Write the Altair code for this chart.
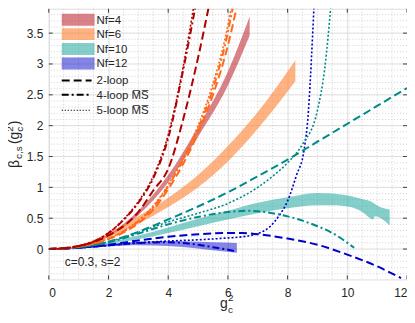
import altair as alt
import pandas as pd

# ---------------- data ----------------
# bands (lower / upper edges)
band4_x = [0, 1, 2, 3, 4, 5, 6, 6.73]
band4_lo = [0, 0.03, 0.2, 0.55, 1.08, 1.82, 2.65, 3.46]
band4_hi = [0, 0.04, 0.24, 0.62, 1.2, 1.98, 2.88, 3.77]

band6_x = [0, 1, 2, 3, 4, 5, 6, 7, 8.26]
band6_lo = [0, 0.04, 0.19, 0.41, 0.68, 1.0, 1.42, 1.95, 2.72]
band6_hi = [0, 0.06, 0.26, 0.53, 0.83, 1.2, 1.67, 2.22, 3.06]

band10_x = [0, 1, 2, 3, 4, 5, 6, 7, 8, 9, 9.5, 10.1, 10.5, 10.87, 10.92, 11.42]
band10_lo = [0, 0.02, 0.08, 0.16, 0.26, 0.37, 0.48, 0.58, 0.66, 0.71, 0.71, 0.68, 0.6, 0.48, 0.53, 0.38]
band10_hi = [0, 0.03, 0.11, 0.22, 0.35, 0.49, 0.62, 0.75, 0.84, 0.91, 0.9, 0.86, 0.81, 0.75, 0.73, 0.64]

band12_x = [0, 1, 2, 3, 4, 5, 5.5, 6.3]
band12_lo = [0, 0.01, 0.04, 0.06, 0.05, 0.01, -0.02, -0.06]
band12_hi = [0, 0.03, 0.08, 0.12, 0.13, 0.12, 0.11, 0.1]

# Nf=4 curves
nf4_2loop_x = [0, 1, 2, 3, 3.5, 4, 4.5, 5, 5.39]
nf4_2loop_y = [0, 0.05, 0.22, 0.6, 0.95, 1.3, 2.1, 3.1, 4.0]
nf4_4loop_x = [0, 0.5, 1, 1.5, 2, 2.5, 3, 3.5, 4, 4.5, 4.94]
nf4_4loop_y = [0, 0.01, 0.05, 0.12, 0.26, 0.47, 0.75, 1.15, 1.8, 2.9, 4.0]
nf4_5loop_x = [0, 0.5, 1, 1.5, 2, 2.5, 3, 3.5, 4, 4.5, 4.88]
nf4_5loop_y = [0, 0.01, 0.05, 0.12, 0.26, 0.48, 0.77, 1.18, 1.85, 2.95, 4.0]

# Nf=6 curves
nf6_2loop_x = [0, 1, 2, 3, 3.5, 4, 4.5, 5, 5.5, 6, 6.33]
nf6_2loop_y = [0, 0.04, 0.16, 0.42, 0.64, 0.97, 1.38, 1.88, 2.5, 3.3, 4.0]
nf6_4loop_x = [0, 1, 2, 3, 3.5, 4, 4.5, 5, 5.5, 5.9, 6.2]
nf6_4loop_y = [0, 0.04, 0.17, 0.45, 0.68, 1.02, 1.45, 1.95, 2.6, 3.3, 4.0]
nf6_5loop_x = [0, 1, 2, 3, 3.5, 4, 4.5, 5, 5.5, 5.9, 6.15]
nf6_5loop_y = [0, 0.04, 0.17, 0.46, 0.7, 1.04, 1.48, 2.0, 2.68, 3.4, 4.0]

# Nf=10 curves
nf10_2loop_x = [0, 1, 2, 3, 4, 5, 6, 7, 8, 9, 10, 11, 12]
nf10_2loop_y = [0, 0.03, 0.12, 0.28, 0.48, 0.69, 0.92, 1.18, 1.45, 1.74, 2.03, 2.32, 2.61]
nf10_4loop_x = [0, 1, 2, 3, 4, 5, 6, 6.7, 7.5, 8, 8.5, 9, 9.5, 10.23]
nf10_4loop_y = [0, 0.03, 0.11, 0.25, 0.4, 0.52, 0.6, 0.62, 0.58, 0.53, 0.46, 0.37, 0.26, 0.02]
nf10_5loop_x = [0, 1, 2, 3, 4, 5, 6, 7, 7.5, 8, 8.5, 9, 9.25, 9.46]
nf10_5loop_y = [0, 0.03, 0.12, 0.27, 0.44, 0.58, 0.74, 1.0, 1.18, 1.4, 1.7, 2.25, 2.95, 4.0]

# Nf=12 curves
nf12_2loop_x = [0, 1, 2, 3, 4, 5, 6, 6.5, 7, 8, 9, 10, 11, 11.8]
nf12_2loop_y = [0, 0.02, 0.07, 0.14, 0.2, 0.24, 0.26, 0.26, 0.24, 0.17, 0.07, -0.09, -0.28, -0.47]
nf12_4loop_x = [0, 1, 2, 3, 4, 5, 5.5, 6, 6.3]
nf12_4loop_y = [0, 0.02, 0.06, 0.1, 0.11, 0.07, 0.03, -0.01, -0.04]
nf12_5loop_x = [0, 1, 2, 3, 4, 5, 6, 6.5, 7, 7.4, 7.7, 8, 8.3, 8.55, 8.7, 8.8, 8.89]
nf12_5loop_y = [0, 0.02, 0.06, 0.1, 0.13, 0.15, 0.18, 0.2, 0.25, 0.36, 0.53, 0.78, 1.2, 1.6, 2.25, 3.1, 4.0]

x_ticks = [0, 2, 4, 6, 8, 10, 12]
y_ticks = [0, 0.5, 1, 1.5, 2, 2.5, 3, 3.5]
x_minor = [v / 2 for v in range(1, 24) if v % 4 != 0]
y_minor = [round(v / 10, 2) for v in range(-4, 39) if v % 5 != 0]

band_labels = ["Nf=4", "Nf=6", "Nf=10", "Nf=12"]
loop_labels = ["2-loop", "4-loop M\u0305S\u0305", "5-loop M\u0305S\u0305"]
note_text = "c=0.3, s=2"

# ---------------- styling ----------------
W, H = 360, 272
FONT = "Liberation Sans"
TXT = "#262626"
FRAME = "#404040"

fill4, fill6, fill10, fill12 = "#c0303a", "#ff8030", "#20a8a0", "#2020d0"
col4, col6, col10, col12 = "#b00000", "#ff6a1a", "#008b8b", "#0000c8"
DASH = [8, 4]
DASHDOT = [7, 3, 2, 3]
DOT = [2, 2]

xscale = alt.Scale(domain=[0, 12], nice=False, zero=False)
yscale = alt.Scale(domain=[-0.492, 3.895], nice=False, zero=False)

X_AX = alt.Axis(values=x_ticks, format="~g", grid=True, gridColor="#dcdcdc", gridWidth=1,
                ticks=False, labelPadding=8, labelFontSize=12, labelFont=FONT,
                labelColor=TXT, domain=False, title=None)
Y_AX = alt.Axis(values=y_ticks, format="~g", grid=True, gridColor="#dcdcdc", gridWidth=1,
                ticks=False, labelPadding=6, labelFontSize=12, labelFont=FONT,
                labelColor=TXT, domain=False, title=None)

def X(f="x"):
    return alt.X(f"{f}:Q", scale=xscale, axis=X_AX)

def Y(f="y"):
    return alt.Y(f"{f}:Q", scale=yscale, axis=Y_AX)

one = pd.DataFrame({"a": [0]})

layers = []

# minor dotted grid
layers.append(alt.Chart(pd.DataFrame({"x": x_minor})).mark_rule(
    color="#c8c8c8", strokeDash=[1, 2], strokeWidth=0.8).encode(x=X()))
layers.append(alt.Chart(pd.DataFrame({"y": y_minor})).mark_rule(
    color="#c8c8c8", strokeDash=[1, 2], strokeWidth=0.8).encode(y=Y()))

# bands
def band(xv, lo, hi, color, op):
    df = pd.DataFrame({"x": xv, "lo": lo, "hi": hi})
    return alt.Chart(df).mark_area(color=color, opacity=op, clip=True, interpolate="monotone").encode(
        x=X(), y=Y("lo"), y2="hi:Q")

layers.append(band(band4_x, band4_lo, band4_hi, fill4, 0.6))
layers.append(band(band6_x, band6_lo, band6_hi, fill6, 0.6))
layers.append(band(band10_x, band10_lo, band10_hi, fill10, 0.55))
layers.append(band(band12_x, band12_lo, band12_hi, fill12, 0.55))

def line(xv, yv, color, dash, width=2.0):
    df = pd.DataFrame({"x": xv, "y": yv})
    return alt.Chart(df).mark_line(color=color, strokeDash=dash, strokeWidth=width, clip=True,
                                   interpolate="monotone").encode(x=X(), y=Y())

layers += [
    line(nf12_2loop_x, nf12_2loop_y, col12, DASH),
    line(nf12_4loop_x, nf12_4loop_y, col12, DASHDOT),
    line(nf12_5loop_x, nf12_5loop_y, col12, DOT, 1.6),
    line(nf10_2loop_x, nf10_2loop_y, col10, DASH),
    line(nf10_4loop_x, nf10_4loop_y, col10, DASHDOT),
    line(nf10_5loop_x, nf10_5loop_y, col10, DOT, 1.6),
    line(nf6_2loop_x, nf6_2loop_y, col6, DASH),
    line(nf6_4loop_x, nf6_4loop_y, col6, DASHDOT),
    line(nf6_5loop_x, nf6_5loop_y, col6, DOT, 1.6),
    line(nf4_2loop_x, nf4_2loop_y, col4, DASH),
    line(nf4_4loop_x, nf4_4loop_y, col4, DASHDOT),
    line(nf4_5loop_x, nf4_5loop_y, col4, DOT, 1.6),
]

# inward ticks on all four sides
xt = pd.DataFrame({"x": x_ticks})
yt = pd.DataFrame({"y": y_ticks})
layers.append(alt.Chart(xt).mark_rule(color=FRAME).encode(x=X(), y=alt.value(H), y2=alt.value(H - 4)))
layers.append(alt.Chart(xt).mark_rule(color=FRAME).encode(x=X(), y=alt.value(0), y2=alt.value(4)))
layers.append(alt.Chart(yt).mark_rule(color=FRAME).encode(y=Y(), x=alt.value(0), x2=alt.value(4)))
layers.append(alt.Chart(yt).mark_rule(color=FRAME).encode(y=Y(), x=alt.value(W), x2=alt.value(W - 4)))

# legend (manual)
patch_rows = [11, 25.5, 40.5, 55]
for lab, c, op, r in zip(band_labels, [fill4, fill6, fill10, fill12], [0.6, 0.6, 0.55, 0.55], patch_rows):
    layers.append(alt.Chart(one).mark_rect(color=c, opacity=op).encode(
        x=alt.value(13), x2=alt.value(46), y=alt.value(r - 6), y2=alt.value(r + 6)))
    layers.append(alt.Chart(one).mark_text(text=lab, align="left", baseline="middle", font=FONT,
                                           fontSize=11.5, color=TXT).encode(x=alt.value(48), y=alt.value(r + 1)))
line_rows = [72, 86.5, 102]
for lab, d, r in zip(loop_labels, [DASH, DASHDOT, [1.2, 1.8]], line_rows):
    layers.append(alt.Chart(one).mark_rule(color="black", strokeDash=d, strokeWidth=2 if d != [1.2, 1.8] else 1.2).encode(
        x=alt.value(13), x2=alt.value(43), y=alt.value(r)))
    layers.append(alt.Chart(one).mark_text(text=lab, align="left", baseline="middle", font=FONT,
                                           fontSize=11.5, color=TXT).encode(x=alt.value(48), y=alt.value(r + 1)))

# annotation
layers.append(alt.Chart(one).mark_text(text=note_text, align="left", baseline="alphabetic", font=FONT,
                                       fontSize=12, color=TXT).encode(x=alt.value(16), y=alt.value(259)))

# y-axis title: beta_{c,s}(g_c^2), rotated
def rtxt(t, px, py, size):
    return alt.Chart(one).mark_text(text=t, angle=270, align="left", baseline="alphabetic", font=FONT,
                                    fontSize=size, color=TXT).encode(x=alt.value(px - 49), y=alt.value(py - 8))

layers += [
    rtxt("\u03b2", 19, 168, 14),
    rtxt("c,s", 22.5, 159, 10),
    rtxt("(g", 19, 144, 14),
    rtxt("2", 13.5, 131.5, 10),
    rtxt("c", 23, 131.5, 10),
    rtxt(")", 19, 125, 14),
]

# x-axis title: g_c^2
def ttxt(t, px, py, size):
    return alt.Chart(one).mark_text(text=t, align="left", baseline="alphabetic", font=FONT,
                                    fontSize=size, color=TXT).encode(x=alt.value(px - 49), y=alt.value(py - 8))

layers += [
    ttxt("g", 221, 309, 14),
    ttxt("2", 229, 302, 10),
    ttxt("c", 229, 314, 10),
]

chart = alt.layer(*layers).properties(
    width=W, height=H,
    padding={"left": 41, "top": 0, "right": 0, "bottom": 35},
    autosize=alt.AutoSizeParams(type="none"),
).configure_view(stroke=FRAME, strokeWidth=1).configure(background="white")

chart.save("out.html", embed_options={"renderer": "svg", "actions": False})
